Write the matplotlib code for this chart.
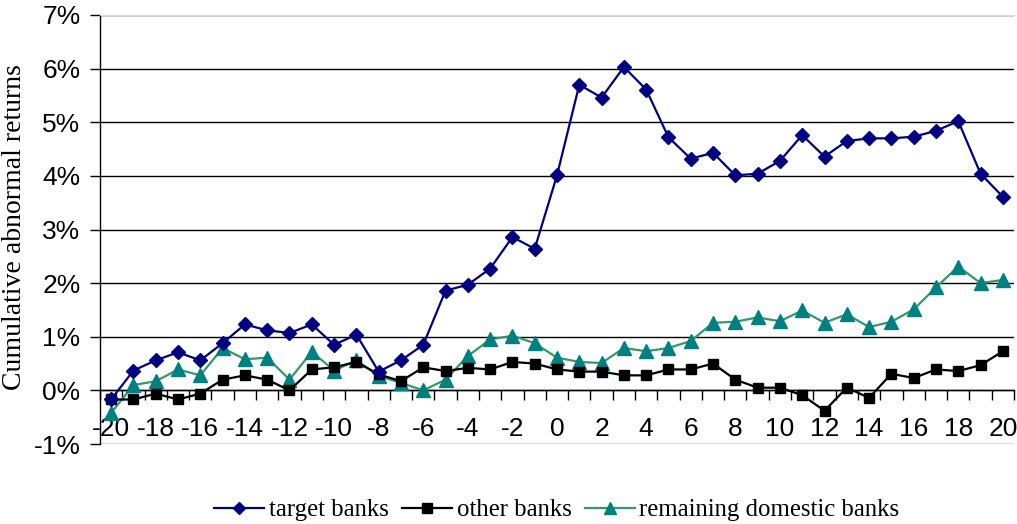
import matplotlib
matplotlib.use("Agg")
import matplotlib.pyplot as plt
from matplotlib.ticker import MultipleLocator, FixedLocator, FuncFormatter

plt.rcParams["axes.unicode_minus"] = False

days = list(range(-20, 21))

target_banks = [-0.17, 0.37, 0.56, 0.71, 0.56, 0.88, 1.23, 1.12, 1.07, 1.23,
                0.85, 1.04, 0.35, 0.56, 0.85, 1.86, 1.97, 2.27, 2.86, 2.64,
                4.01, 5.70, 5.46, 6.03, 5.61, 4.72, 4.32, 4.43, 4.01, 4.04,
                4.28, 4.76, 4.36, 4.65, 4.70, 4.70, 4.73, 4.84, 5.02, 4.04, 3.61]

other_banks = [-0.17, -0.17, -0.06, -0.17, -0.06, 0.20, 0.28, 0.20, 0.00, 0.39,
               0.43, 0.53, 0.30, 0.17, 0.43, 0.36, 0.42, 0.39, 0.53, 0.50,
               0.39, 0.35, 0.35, 0.28, 0.28, 0.39, 0.39, 0.50, 0.20, 0.05,
               0.05, -0.09, -0.38, 0.05, -0.14, 0.31, 0.23, 0.39, 0.36, 0.47, 0.73]

remaining_domestic = [-0.42, 0.10, 0.17, 0.39, 0.28, 0.79, 0.58, 0.61, 0.20, 0.72,
                      0.37, 0.56, 0.27, 0.14, 0.00, 0.20, 0.64, 0.95, 1.02, 0.88,
                      0.61, 0.53, 0.51, 0.79, 0.73, 0.79, 0.92, 1.26, 1.28, 1.36,
                      1.29, 1.49, 1.26, 1.42, 1.18, 1.28, 1.51, 1.92, 2.31, 2.00, 2.06]

series_labels = ["target banks", "other banks", "remaining domestic banks"]
y_label = "Cumulative abnormal returns"

W, H = 1017, 524
fig = plt.figure(figsize=(W / 100, H / 100), dpi=100)
ax = fig.add_axes([100 / W, 1 - 444 / H, 914 / W, 429 / H])

ax.plot(days, target_banks, color="#000080", lw=1.6, marker="D", ms=6.8,
        mfc="#000080", mec="#000080", label=series_labels[0], zorder=5)
ax.plot(days, other_banks, color="black", lw=1.6, marker="s", ms=7.8,
        mfc="black", mec="black", label=series_labels[1], zorder=4)
ax.plot(days, remaining_domestic, color="#339966", lw=1.6, marker="^", ms=9.5,
        mfc="#008080", mec="#008080", label=series_labels[2], zorder=3)

ax.set_xlim(-20.5, 20.5)
ax.set_ylim(-1, 7)

# y axis
ax.yaxis.set_major_locator(MultipleLocator(1))
ax.yaxis.set_major_formatter(FuncFormatter(lambda v, p: f"{v:.0f}%"))
ax.tick_params(axis="y", direction="out", length=7, width=1, pad=7,
               labelsize=19, colors="black")
for t in ax.get_yticklabels():
    t.set_fontfamily("Liberation Sans")
ax.yaxis.grid(True, color="black", lw=1)
ax.set_axisbelow(True)

# x axis crossing at 0
ax.spines["bottom"].set_position(("data", 0))
ax.spines["bottom"].set_color("black")
ax.spines["bottom"].set_linewidth(1)
ax.xaxis.set_major_locator(FixedLocator(days[::2]))
ax.xaxis.set_minor_locator(FixedLocator([d - 0.5 for d in days] + [days[-1] + 0.5]))
ax.tick_params(axis="x", which="major", length=0, pad=19, labelsize=19)
ax.tick_params(axis="x", which="minor", direction="out", length=7, width=1)
for t in ax.get_xticklabels():
    t.set_fontfamily("Liberation Sans")

ax.spines["left"].set_color("black")
ax.spines["left"].set_linewidth(1)
ax.spines["right"].set_visible(False)
ax.spines["top"].set_color("#d9d9d9")
ax.axhline(-1, color="#d9d9d9", lw=1.5, zorder=1)
ax.axhline(7, color="#d9d9d9", lw=1.5, zorder=1)

fig.text(15 / W, 1 - 390 / H, y_label, rotation=90, ha="center", va="bottom",
         fontsize=20, family="Liberation Serif")

leg = fig.legend(loc="center", bbox_to_anchor=(557 / W, 1 - 510 / H), ncol=3,
                 frameon=False, prop={"family": "Liberation Serif", "size": 17.8},
                 handlelength=2.0, handletextpad=0.2, columnspacing=0.55,
                 borderaxespad=0, borderpad=0, markerscale=0.85)

fig.savefig("out.png", dpi=100)
